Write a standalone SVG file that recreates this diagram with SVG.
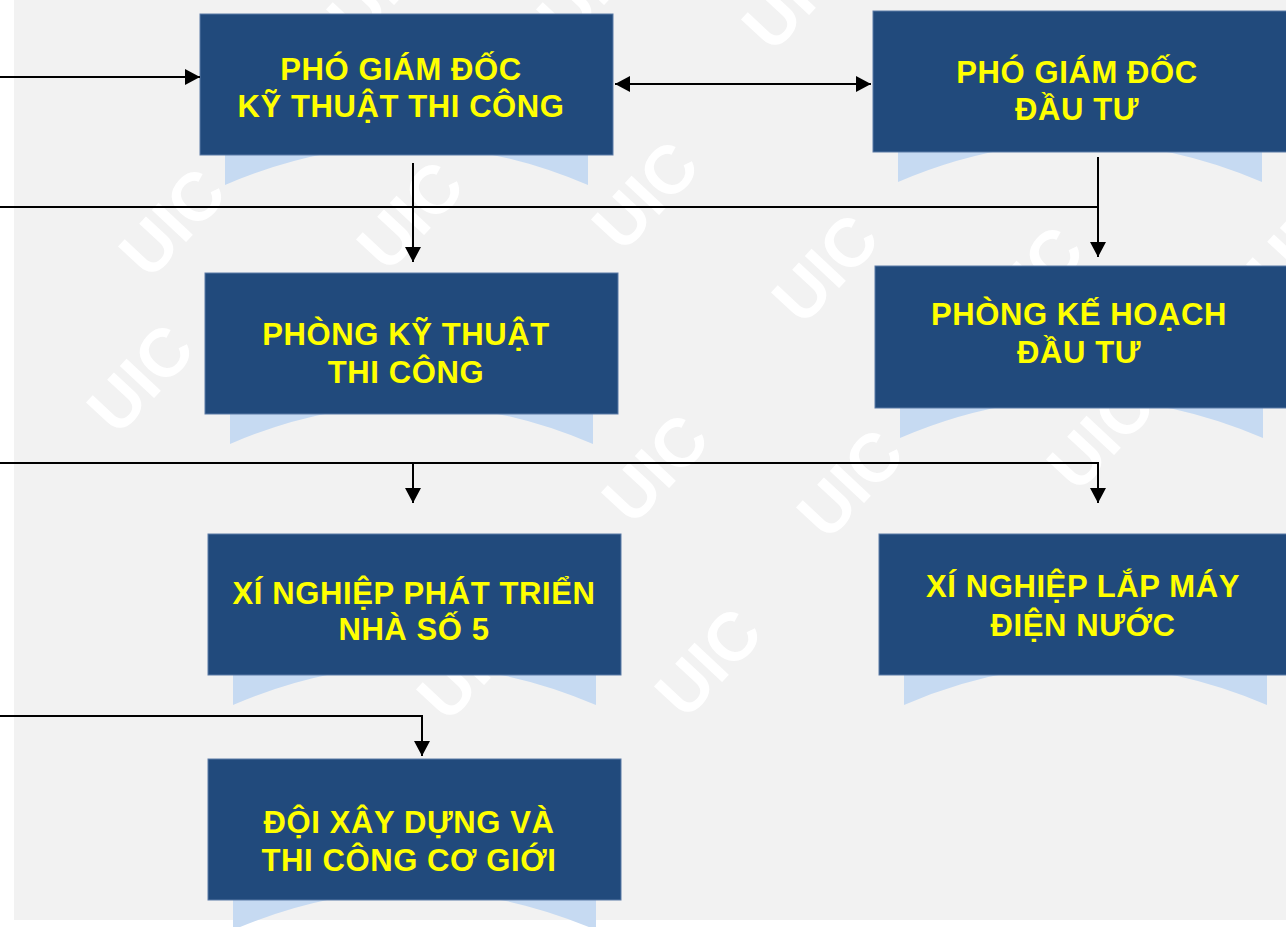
<svg xmlns="http://www.w3.org/2000/svg" width="1286" height="927" viewBox="0 0 1286 927">
<style>
.box{fill:#214a7c;stroke:#5b7aa6;stroke-width:1}
.refl{fill:#c6daf2}
.lbl{font-family:"Liberation Sans",Arial,sans-serif;font-weight:bold;font-size:31px;fill:#ffff00;text-anchor:middle;letter-spacing:0.6px}
.wm{font-family:"Liberation Sans",Arial,sans-serif;font-weight:bold;font-size:68px;fill:#ffffff;text-anchor:middle;dominant-baseline:central}
.conn{fill:none;stroke:#000000;stroke-width:2}
</style>
<defs>
<marker id="arr" viewBox="0 0 15 16" refX="15" refY="8" markerWidth="15" markerHeight="16" markerUnits="userSpaceOnUse" orient="auto-start-reverse">
<path d="M0,0 L15,8 L0,16 Z" fill="#000000"/>
</marker>
</defs>
<rect x="0" y="0" width="1286" height="927" fill="#ffffff"/>
<rect x="14" y="0" width="1272" height="920" fill="#f2f2f2"/>
<g id="watermarks">
<text class="wm" x="172" y="222" transform="rotate(-47 172 222)">UIC</text>
<text class="wm" x="410" y="215" transform="rotate(-47 410 215)">UIC</text>
<text class="wm" x="645" y="195" transform="rotate(-47 645 195)">UIC</text>
<text class="wm" x="825" y="268" transform="rotate(-47 825 268)">UIC</text>
<text class="wm" x="1030" y="280" transform="rotate(-47 1030 280)">UIC</text>
<text class="wm" x="1300" y="240" transform="rotate(-47 1300 240)">UIC</text>
<text class="wm" x="140" y="378" transform="rotate(-47 140 378)">UIC</text>
<text class="wm" x="655" y="468" transform="rotate(-47 655 468)">UIC</text>
<text class="wm" x="850" y="483" transform="rotate(-47 850 483)">UIC</text>
<text class="wm" x="1100" y="435" transform="rotate(-47 1100 435)">UIC</text>
<text class="wm" x="708" y="662" transform="rotate(-47 708 662)">UIC</text>
<text class="wm" x="470" y="665" transform="rotate(-47 470 665)">UIC</text>
<text class="wm" x="380" y="-15" transform="rotate(-47 380 -15)">UIC</text>
<text class="wm" x="590" y="-15" transform="rotate(-47 590 -15)">UIC</text>
<text class="wm" x="795" y="-5" transform="rotate(-47 795 -5)">UIC</text>
</g>
<g id="n1">
<path class="refl" d="M225,152 H588 V185 Q406,107 225,185 Z"/>
<rect class="box" x="200" y="14" width="413" height="141"/>
<text class="lbl" x="401" y="80">PHÓ GIÁM ĐỐC</text>
<text class="lbl" x="401" y="117">KỸ THUẬT THI CÔNG</text>
</g>
<g id="n2">
<path class="refl" d="M898,149 H1262 V182 Q1080,104 898,182 Z"/>
<rect class="box" x="873" y="11" width="416" height="141"/>
<text class="lbl" x="1077" y="83">PHÓ GIÁM ĐỐC</text>
<text class="lbl" x="1077" y="120">ĐẦU TƯ</text>
</g>
<g id="n3">
<path class="refl" d="M230,411 H593 V444 Q411,366 230,444 Z"/>
<rect class="box" x="205" y="273" width="413" height="141"/>
<text class="lbl" x="406" y="345">PHÒNG KỸ THUẬT</text>
<text class="lbl" x="406" y="383">THI CÔNG</text>
</g>
<g id="n4">
<path class="refl" d="M900,405 H1263 V438 Q1081,360 900,438 Z"/>
<rect class="box" x="875" y="266" width="414" height="142"/>
<text class="lbl" x="1079" y="325">PHÒNG KẾ HOẠCH</text>
<text class="lbl" x="1079" y="363">ĐẦU TƯ</text>
</g>
<g id="n5">
<path class="refl" d="M233,672 H596 V705 Q414,627 233,705 Z"/>
<rect class="box" x="208" y="534" width="413" height="141"/>
<text class="lbl" x="414" y="604">XÍ NGHIỆP PHÁT TRIỂN</text>
<text class="lbl" x="414" y="640">NHÀ SỐ 5</text>
</g>
<g id="n6">
<path class="refl" d="M904,672 H1267 V705 Q1085,627 904,705 Z"/>
<rect class="box" x="879" y="534" width="410" height="141"/>
<text class="lbl" x="1083" y="597">XÍ NGHIỆP LẮP MÁY</text>
<text class="lbl" x="1083" y="636">ĐIỆN NƯỚC</text>
</g>
<g id="n7">
<path class="refl" d="M233,897 H596 V930 Q414,852 233,930 Z"/>
<rect class="box" x="208" y="759" width="413" height="141"/>
<text class="lbl" x="409" y="833">ĐỘI XÂY DỰNG VÀ</text>
<text class="lbl" x="409" y="871">THI CÔNG CƠ GIỚI</text>
</g>
<g id="connectors">
<path class="conn" d="M0,77 H200" marker-end="url(#arr)"/>
<path class="conn" d="M615,84 H871" marker-start="url(#arr)" marker-end="url(#arr)"/>
<path class="conn" d="M413,163 V262" marker-end="url(#arr)"/>
<path class="conn" d="M0,207 H1098"/>
<path class="conn" d="M1098,157 V257" marker-end="url(#arr)"/>
<path class="conn" d="M0,463 H1098 V503" marker-end="url(#arr)"/>
<path class="conn" d="M413,463 V503" marker-end="url(#arr)"/>
<path class="conn" d="M0,716 H422 V756" marker-end="url(#arr)"/>
</g>
</svg>
